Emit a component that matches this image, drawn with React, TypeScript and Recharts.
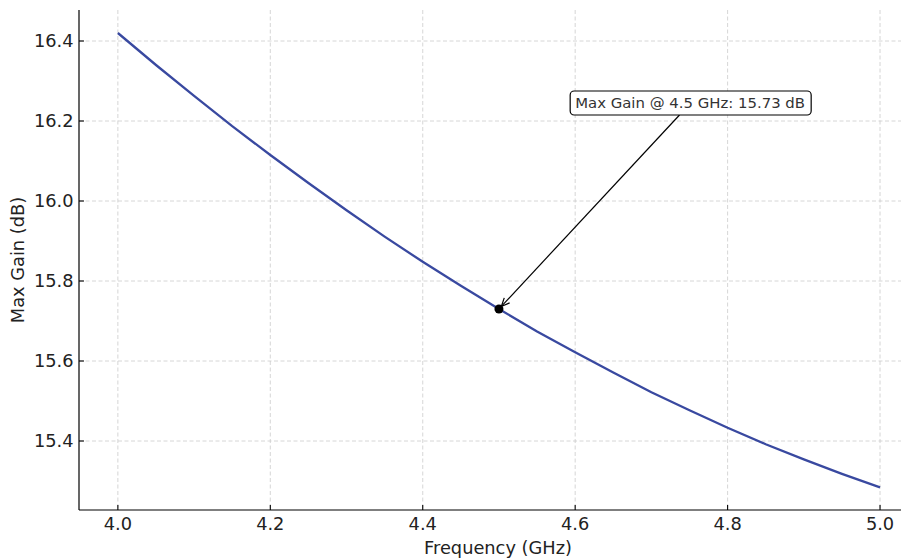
import { LineChart, Line, XAxis, YAxis, CartesianGrid, ReferenceDot, ReferenceLine } from 'recharts';

const FREQ = [4.0, 4.05, 4.1, 4.15, 4.2, 4.25, 4.3, 4.35, 4.4, 4.45, 4.5, 4.55, 4.6, 4.65, 4.7, 4.75, 4.8, 4.85, 4.9, 4.95, 5.0];
const GAIN = [
  16.42, 16.34, 16.263, 16.187, 16.115, 16.045, 15.977, 15.911, 15.848, 15.788, 15.73,
  15.674, 15.622, 15.571, 15.522, 15.477, 15.433, 15.392, 15.354, 15.318, 15.284,
];
const X_TICKS = [4.0, 4.2, 4.4, 4.6, 4.8, 5.0];
const Y_TICKS = [15.4, 15.6, 15.8, 16.0, 16.2, 16.4];

const PEAK_FREQ = 4.5;
const PEAK_GAIN = 15.73;
const NOTE_X = 4.6;
const NOTE_Y = 16.245;
const NOTE_TEXT = 'Max Gain @ 4.5 GHz: 15.73 dB';

const FONT = '"DejaVu Sans", sans-serif';
const LABEL_SIZE = 17.8;

const data = FREQ.map((f, i) => ({ freq: f, gain: GAIN[i] }));

const XTick = ({ x = 0, y = 0, payload }: any) => (
  <g>
    <line x1={x} y1={y} x2={x} y2={y - 5} stroke="#000" strokeWidth={1.1} />
    <text x={x} y={y + 19.5} textAnchor="middle" fontSize={LABEL_SIZE} fontFamily={FONT} fill="#222">
      {Number(payload.value).toFixed(1)}
    </text>
  </g>
);

const YTick = ({ x = 0, y = 0, payload }: any) => (
  <g>
    <line x1={x} y1={y} x2={x + 5} y2={y} stroke="#000" strokeWidth={1.1} />
    <text x={x - 5.5} y={y} dy="0.36em" textAnchor="end" fontSize={LABEL_SIZE} fontFamily={FONT} fill="#222">
      {Number(payload.value).toFixed(1)}
    </text>
  </g>
);

const XLabel = ({ viewBox }: any) => {
  const { x = 0, y = 0, width = 0 } = viewBox || {};
  return (
    <text x={x + width / 2 + 4} y={y + 43.5} textAnchor="middle" fontSize={LABEL_SIZE} fontFamily={FONT} fill="#222">
      Frequency (GHz)
    </text>
  );
};

const YLabel = ({ viewBox }: any) => {
  const { x = 0, y = 0, height = 0 } = viewBox || {};
  const cx = x + 10;
  const cy = y + height / 2;
  return (
    <text
      x={cx}
      y={cy}
      dy="0.36em"
      transform={`rotate(-90, ${cx}, ${cy})`}
      textAnchor="middle"
      fontSize={LABEL_SIZE}
      fontFamily={FONT}
      fill="#222"
    >
      Max Gain (dB)
    </text>
  );
};

// box + arrow, from the text anchor (x1,y1) down to the point (x2,y2)
const Annotation = ({ x1 = 0, y1 = 0, x2 = 0, y2 = 0 }: any) => {
  const boxW = 241;
  const boxH = 24;
  const bx = x1 - 5;
  const cx = bx + boxW / 2;
  const t = boxH / 2 / (y2 - y1);
  const sx = cx + (x2 - cx) * t;
  const sy = y1 + boxH / 2;
  const dx = x2 - sx;
  const dy = y2 - sy;
  const len = Math.sqrt(dx * dx + dy * dy);
  const ux = dx / len;
  const uy = dy / len;
  const ex = x2 - ux * 3.5;
  const ey = y2 - uy * 3.5;
  const head = 9;
  const ang = 0.42;
  const rot = (a: number) => [
    -(ux * Math.cos(a) - uy * Math.sin(a)) * head,
    -(ux * Math.sin(a) + uy * Math.cos(a)) * head,
  ];
  const [h1x, h1y] = rot(ang);
  const [h2x, h2y] = rot(-ang);
  return (
    <g>
      <line x1={sx} y1={sy} x2={ex} y2={ey} stroke="#000" strokeWidth={1.2} />
      <polyline
        points={`${ex + h1x},${ey + h1y} ${ex},${ey} ${ex + h2x},${ey + h2y}`}
        fill="none"
        stroke="#000"
        strokeWidth={1.2}
      />
      <rect x={bx} y={y1 - boxH / 2} width={boxW} height={boxH} rx={4} fill="#fff" stroke="#000" strokeWidth={1.2} />
      <text x={x1} y={y1} dy="0.36em" fontSize={14.9} fontFamily={FONT} fill="#333">
        {NOTE_TEXT}
      </text>
    </g>
  );
};

export default function App() {
  return (
    <LineChart width={901} height={552} data={data} margin={{ top: 2, right: 0, bottom: 0, left: 0 }}>
      <CartesianGrid
        stroke="#cccccc"
        strokeDasharray="4 2.5"
        strokeWidth={0.8}
        horizontalValues={Y_TICKS}
        verticalValues={X_TICKS}
      />
      <XAxis
        dataKey="freq"
        type="number"
        domain={[3.949, 5.038]}
        ticks={X_TICKS}
        allowDataOverflow
        height={50}
        tickSize={0}
        tickMargin={0}
        tickLine={false}
        tick={<XTick />}
        axisLine={{ stroke: '#000', strokeWidth: 1.2 }}
        label={<XLabel />}
      />
      <YAxis
        type="number"
        domain={[15.2275, 16.4775]}
        ticks={Y_TICKS}
        allowDataOverflow
        width={71}
        tickSize={0}
        tickMargin={0}
        tickLine={false}
        tick={<YTick />}
        axisLine={{ stroke: '#000', strokeWidth: 1.2 }}
        label={<YLabel />}
      />
      <Line
        type="linear"
        dataKey="gain"
        stroke="#3949A0"
        strokeWidth={2.3}
        dot={false}
        activeDot={false}
        isAnimationActive={false}
      />
      <ReferenceLine
        segment={[
          { x: NOTE_X, y: NOTE_Y },
          { x: PEAK_FREQ, y: PEAK_GAIN },
        ]}
        shape={<Annotation />}
      />
      <ReferenceDot x={PEAK_FREQ} y={PEAK_GAIN} r={4.5} fill="#000" stroke="none" />
    </LineChart>
  );
}
